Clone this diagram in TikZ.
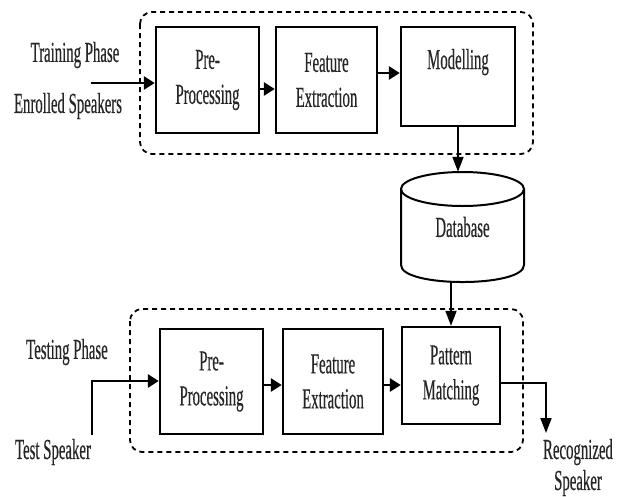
\documentclass[tikz,border=0pt]{standalone}
\usepackage{fontspec}
\setmainfont[FakeStretch=0.51,FakeBold=0.4]{Liberation Serif}
\usetikzlibrary{arrows.meta}
\begin{document}
\begin{tikzpicture}[x=1pt,y=-1pt,
  every node/.style={font=\fontsize{29}{35}\selectfont, inner sep=0pt, text=black!85},
  blk/.style={draw=black, line width=2.4pt, align=center},
  grp/.style={draw, line width=1.8pt, dash pattern=on 5pt off 4pt, rounded corners=12pt},
  arr/.style={line width=2.8pt, -{Triangle[length=11pt,width=13pt]}},
  varr/.style={line width=1.8pt, -{Triangle[length=15pt,width=11pt]}},
  lbl/.style={align=center}]
\useasboundingbox[fill=white] (0,0) rectangle (627,496);

% training stage
\draw[grp] (140,12) rectangle (533,154);
\node[blk, minimum width=103pt, minimum height=106pt] (pre1) at (207.5,80) {Pre-\\Processing};
\node[blk, minimum width=101pt, minimum height=106pt] (fe1) at (326.5,80) {Feature\\Extraction};
\node[blk, minimum width=114pt, minimum height=99pt] (mod) at (458,76.5) {Modelling\\\mbox{}};

\node[lbl] (trn) at (75,55) {Training Phase};
\node[lbl] (enr) at (68,106) {Enrolled Speakers};
\coordinate (tin) at (91,83);
\draw[arr] (tin) -- (tin -| pre1.west);
\draw[arr] ([yshift=-9pt]pre1.east) -- ([yshift=-9pt]pre1.east -| fe1.west);
\draw[arr] ([yshift=7pt]fe1.east) -- ([yshift=7pt]fe1.east -| mod.west);

% speaker database
\draw[line width=2pt] (462.5,189) ellipse [x radius=61.5, y radius=17];
\draw[line width=2pt] (401,189) -- (401,265) .. controls (401,287.7) and (524,287.7) .. (524,265) -- (524,189);
\node[minimum width=123pt, minimum height=110pt] (db) at (462.5,227) {Database};
\draw[varr] (mod.south) -- (mod.south |- db.north);

% testing stage
\draw[grp] (130,309) rectangle (523,452);
\node[blk, minimum width=103pt, minimum height=105pt] (pre2) at (211.5,381.5) {Pre-\\Processing};
\node[blk, minimum width=100pt, minimum height=105pt] (fe2) at (333,381.5) {Feature\\Extraction};
\node[blk, minimum width=98pt, minimum height=97pt] (pm) at (451,375.5) {Pattern\\Matching};
\draw[varr] (pm.north |- db.south) -- (pm.north);

\node[lbl] (tst) at (67,352) {Testing Phase};
\node[lbl] (tsp) at (53,452) {Test Speaker};
\coordinate (sin) at (92,435);
\draw[arr] (sin) -- (92,381) -- (92,381 -| pre2.west);
\draw[arr] ([yshift=-3.5pt]pre2.east) -- ([yshift=-3.5pt]pre2.east -| fe2.west);
\draw[arr] ([yshift=-3.5pt]fe2.east) -- ([yshift=-3.5pt]fe2.east -| pm.west);

\coordinate (rout) at (546,433);
\draw[varr] ([yshift=-7.5pt]pm.east) -| (rout);
\node[lbl] (rec) at (578,467.5) {Recognized\\[-4pt]Speaker};
\end{tikzpicture}
\end{document}
